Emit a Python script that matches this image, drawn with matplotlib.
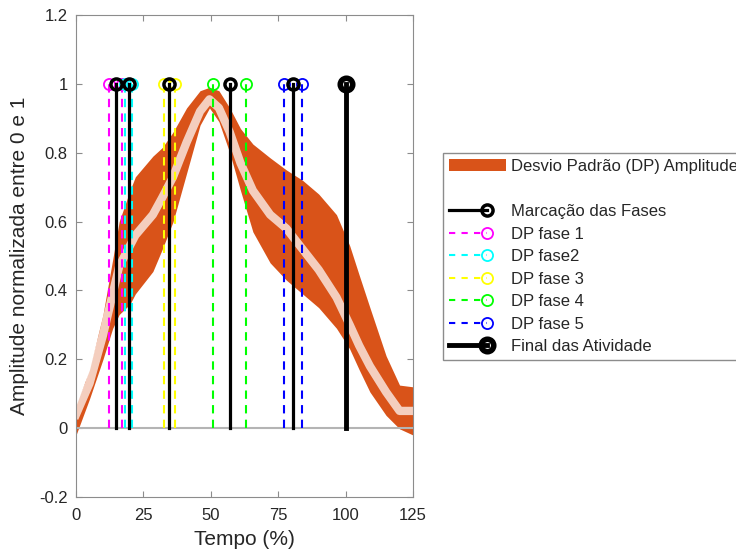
"""
Amplitude normalizada com desvio padrao e marcacao das fases
"""
import matplotlib
matplotlib.use('Agg')
import matplotlib.pyplot as plt
from matplotlib.lines import Line2D
from matplotlib.patches import Patch
from matplotlib.legend_handler import HandlerBase

plt.rcParams['font.family'] = ['Liberation Sans', 'DejaVu Sans']

# Curve (Tempo %, amplitude)
tempo = [0, 5, 10, 13.6, 16, 20, 22, 28.5, 32, 36, 41, 46, 49.5, 53, 57,
         61, 65.6, 72, 78, 84, 90, 96.6, 101.5, 105, 109, 115, 120, 125]
media = [0.04, 0.13, 0.27, 0.39, 0.47, 0.53, 0.56, 0.62, 0.67, 0.73, 0.83, 0.92, 0.955, 0.93, 0.86,
         0.77, 0.69, 0.62, 0.58, 0.52, 0.46, 0.38, 0.30, 0.24, 0.18, 0.105, 0.05, 0.05]
dp_sup = [0.066, 0.17, 0.33, 0.49, 0.60, 0.69, 0.73, 0.79, 0.815, 0.86, 0.93, 0.98, 0.99, 0.98, 0.93,
          0.87, 0.825, 0.785, 0.75, 0.72, 0.68, 0.62, 0.53, 0.445, 0.35, 0.21, 0.125, 0.12]
dp_inf = [-0.02, 0.085, 0.20, 0.29, 0.33, 0.36, 0.39, 0.455, 0.52, 0.60, 0.74, 0.88, 0.93, 0.89, 0.80,
          0.69, 0.57, 0.48, 0.43, 0.39, 0.35, 0.29, 0.23, 0.17, 0.105, 0.037, -0.002, -0.02]

# Phase markers
fases = [14.7, 19.5, 34.6, 57.0, 80.5]
final = [100]
dp_fases = [[12.2, 17.0], [18.3, 20.6], [32.8, 36.8], [50.8, 63.2], [77.0, 83.9]]
dp_labels = ['DP fase 1', 'DP fase2', 'DP fase 3', 'DP fase 4', 'DP fase 5']
dp_cores = ['#ff00ff', '#00ffff', '#ffff00', '#00ff00', '#0000ff']

laranja = '#d95319'
cinza = '#262626'


class HandlerEndMarker(HandlerBase):
    # MATLAB style: line ending in the marker
    def create_artists(self, legend, orig_handle, xdescent, ydescent,
                       width, height, fontsize, trans):
        y = height / 2 - ydescent
        x0 = -xdescent
        x1 = x0 + 0.68 * width
        line = Line2D([x0, x1], [y, y])
        self.update_prop(line, orig_handle, legend)
        line.set_marker('None')
        mk = Line2D([x1], [y])
        self.update_prop(mk, orig_handle, legend)
        mk.set_linestyle('None')
        line.set_transform(trans)
        mk.set_transform(trans)
        return [line, mk]


fig = plt.figure(figsize=(7.36, 5.55), dpi=100)
ax = fig.add_axes([0.1033, 0.1045, 0.4579, 0.8685])

ax.fill_between(tempo, dp_inf, dp_sup, color=laranja, linewidth=0, zorder=1)
ax.plot(tempo, media, color='white', lw=6, alpha=0.72, zorder=2)

# baseline of the stems
ax.axhline(0, color='#b4b4b4', lw=1.5, zorder=2)

handles = [Patch(facecolor=laranja, edgecolor='none'),
           Line2D([], [], color='none')]
labels = ['Desvio Padrão (DP) Amplitude', ' ']

for x in fases:
    ax.plot([x, x], [0, 1], color='black', lw=2.3, zorder=4)
    ax.plot([x], [1], 'o', mfc='none', mec='black', ms=8, mew=2.5, zorder=5)
handles.append(Line2D([], [], color='black', lw=2.3, marker='o', mfc='none', mec='black', ms=8, mew=2.5))
labels.append('Marcação das Fases')

for (lo, hi), cor, lab in zip(dp_fases, dp_cores, dp_labels):
    for x in (lo, hi):
        ax.plot([x, x], [0, 1], color=cor, lw=1.5, ls=(0, (4, 3)), zorder=3)
        ax.plot([x], [1], 'o', mfc='none', mec=cor, ms=8, mew=1.3, zorder=3)
    handles.append(Line2D([], [], color=cor, lw=1.5, ls=(0, (3, 3)),
                          marker='o', mfc='none', mec=cor, ms=8, mew=1.3))
    labels.append(lab)

for x in final:
    ax.plot([x, x], [0, 1], color='black', lw=3.5, zorder=4)
    ax.plot([x], [1], 'o', mfc='none', mec='black', ms=9, mew=4, zorder=5)
handles.append(Line2D([], [], color='black', lw=3.5, marker='o', mfc='none', mec='black', ms=9, mew=4))
labels.append('Final das Atividade')

ax.set_xlim(0, 125)
ax.set_ylim(-0.2, 1.2)
ax.set_xticks([0, 25, 50, 75, 100, 125])
ax.set_yticks([-0.2, 0, 0.2, 0.4, 0.6, 0.8, 1, 1.2])
ax.set_yticklabels(['-0.2', '0', '0.2', '0.4', '0.6', '0.8', '1', '1.2'])
ax.tick_params(direction='in', top=True, right=True, labelsize=12,
               labelcolor=cinza, color='#8c8c8c', length=4, width=0.8)
ax.tick_params(axis='x', pad=8)
ax.tick_params(axis='y', pad=6)
for s in ax.spines.values():
    s.set_color('#8c8c8c')
    s.set_linewidth(0.8)
ax.set_xlabel('Tempo (%)', fontsize=15, color=cinza)
ax.set_ylabel('Amplitude normalizada entre 0 e 1', fontsize=15, color=cinza)
ax.xaxis.set_label_coords(0.5, -0.068)
ax.yaxis.set_label_coords(-0.14, 0.5)

leg = fig.legend(handles, labels, loc='upper left', bbox_to_anchor=(0.602, 0.724),
                 bbox_transform=fig.transFigure, borderaxespad=0, fontsize=12,
                 handlelength=3.4, labelspacing=0.45, handletextpad=0.3,
                 borderpad=0.35, fancybox=False, framealpha=1, edgecolor='#8c8c8c',
                 handler_map={Line2D: HandlerEndMarker()})
for t in leg.get_texts():
    t.set_color(cinza)

plt.savefig('out.png', dpi=100)
plt.close()
